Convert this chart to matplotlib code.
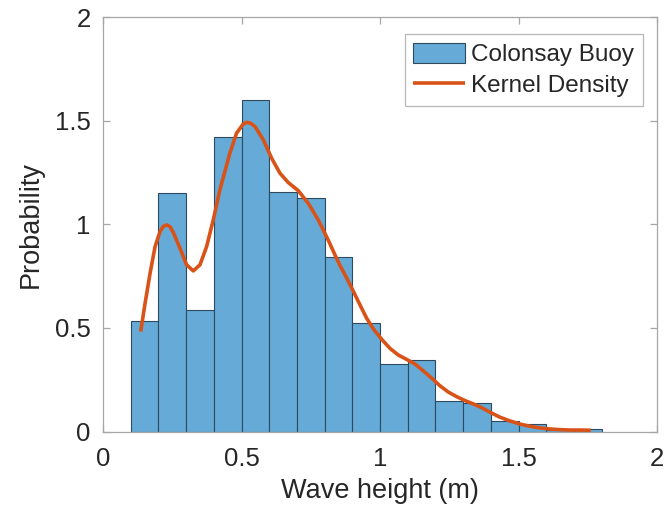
import matplotlib
matplotlib.use("Agg")
import matplotlib.pyplot as plt
import numpy as np

# Histogram data (bin edges and probability density)
bin_edges = [0.1, 0.2, 0.3, 0.4, 0.5, 0.6, 0.7, 0.8, 0.9, 1.0,
             1.1, 1.2, 1.3, 1.4, 1.5, 1.6, 1.7, 1.8]
bar_heights = [0.533, 1.150, 0.588, 1.421, 1.598, 1.154, 1.127, 0.844, 0.524,
               0.324, 0.347, 0.149, 0.136, 0.051, 0.035, 0.008, 0.010]

# Kernel density curve
kde_x = [0.136, 0.152, 0.170, 0.188, 0.206, 0.218, 0.230, 0.242, 0.254, 0.278,
         0.302, 0.326, 0.350, 0.374, 0.398, 0.422, 0.458, 0.482, 0.505, 0.518,
         0.532, 0.549, 0.579, 0.609, 0.639, 0.669, 0.705, 0.741, 0.777, 0.813,
         0.843, 0.856, 0.880, 0.904, 0.928, 0.952, 0.976, 1.006, 1.036, 1.066,
         1.096, 1.126, 1.156, 1.187, 1.217, 1.247, 1.277, 1.307, 1.337, 1.367,
         1.397, 1.433, 1.469, 1.505, 1.542, 1.578, 1.614, 1.650, 1.686, 1.722,
         1.761]
kde_y = [0.482, 0.619, 0.764, 0.892, 0.965, 0.990, 0.997, 0.988, 0.960, 0.884,
         0.804, 0.775, 0.804, 0.892, 1.021, 1.166, 1.343, 1.439, 1.482, 1.492,
         1.488, 1.471, 1.407, 1.318, 1.246, 1.201, 1.162, 1.101, 1.021, 0.924,
         0.836, 0.800, 0.740, 0.676, 0.610, 0.546, 0.495, 0.445, 0.401, 0.369,
         0.348, 0.326, 0.293, 0.257, 0.220, 0.190, 0.168, 0.149, 0.133, 0.115,
         0.093, 0.069, 0.051, 0.036, 0.025, 0.017, 0.012, 0.009, 0.007, 0.007,
         0.006]

x_ticks = [0, 0.5, 1, 1.5, 2]
y_ticks = [0, 0.5, 1, 1.5, 2]
tick_labels = ["0", "0.5", "1", "1.5", "2"]

plt.rcParams['font.family'] = ['Liberation Sans', 'DejaVu Sans']

fig = plt.figure(figsize=(6.66, 5.17), dpi=100)
ax = fig.add_axes([103/666, 1 - 431.5/517, (657-103)/666, (431.5-17)/517])

widths = np.diff(bin_edges)
bars = ax.bar(bin_edges[:-1], bar_heights, width=widths, align='edge',
              color='#66aad7', edgecolor='#2e4a5e', linewidth=0.8,
              label='Colonsay Buoy', zorder=2)
line, = ax.plot(kde_x, kde_y, color='#d95319', linewidth=2.6,
                label='Kernel Density', zorder=3, solid_joinstyle='round',
                solid_capstyle='butt')

ax.set_xlim(0, 2)
ax.set_ylim(0, 2)
ax.set_xticks(x_ticks)
ax.set_xticklabels(tick_labels)
ax.set_yticks(y_ticks)
ax.set_yticklabels(tick_labels)

gray = '#a6a6a6'
for s in ax.spines.values():
    s.set_color(gray)
    s.set_linewidth(0.9)
ax.tick_params(direction='in', length=5, width=0.9, color=gray,
               top=True, right=True, labelsize=18.5, labelcolor='#262626')
ax.tick_params(axis='x', pad=11)
ax.tick_params(axis='y', pad=9)

ax.set_xlabel('Wave height (m)', fontsize=19.5, color='#262626', labelpad=5)
ax.set_ylabel('Probability', fontsize=19.5, color='#262626', labelpad=8)

leg = ax.legend([bars, line], ['Colonsay Buoy', 'Kernel Density'],
                loc='upper right', bbox_to_anchor=(1 - 14/554, 1 - 17/414.5),
                fontsize=17.5, frameon=True, fancybox=False, borderpad=0.35,
                handlelength=2.15, handleheight=0.95, handletextpad=0.25,
                labelspacing=0.3, borderaxespad=0)
leg.get_frame().set_edgecolor('#a6a6a6')
leg.get_frame().set_linewidth(0.9)
for t in leg.get_texts():
    t.set_color('#262626')

fig.savefig('out.png', dpi=100)
